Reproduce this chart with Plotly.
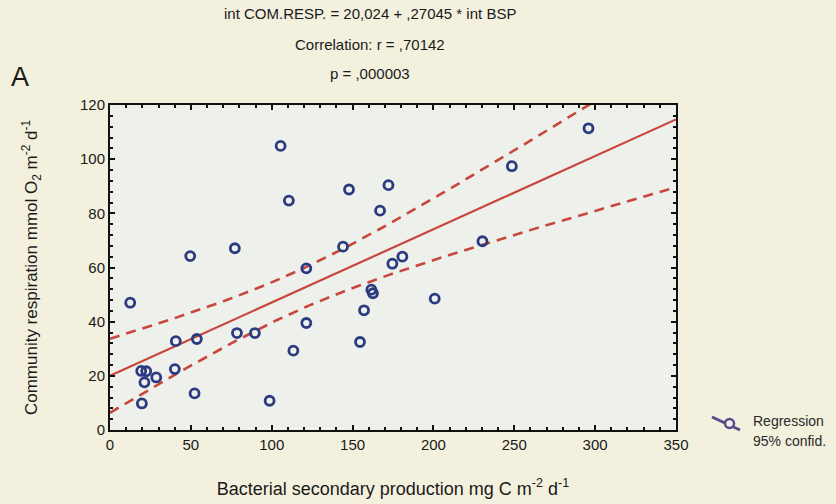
import numpy as np
import plotly.graph_objects as go

# Bacterial secondary production (mg C m-2 d-1) vs community respiration (mmol O2 m-2 d-1)
bsp = [12.5, 19.3, 22.4, 21.3, 28.6, 19.7, 40.7, 40.1, 53.7, 52.3, 78.5, 89.6,
       98.7, 113.4, 121.4, 121.4, 49.6, 105.5, 110.6, 77.2, 144.1, 147.8, 172.2,
       167.0, 230.3, 248.5, 295.9, 174.6, 180.8, 161.6, 162.6, 157.1, 154.6, 200.8]
com_resp = [47.0, 21.8, 21.7, 17.6, 19.4, 9.8, 32.8, 22.5, 33.6, 13.5, 35.8, 35.8,
            10.8, 29.3, 39.5, 59.7, 64.2, 104.9, 84.7, 67.1, 67.7, 88.8, 90.4,
            81.0, 69.7, 97.4, 111.4, 61.4, 64.0, 51.8, 50.5, 44.2, 32.5, 48.5]

# Regression coefficients as reported
intercept = 20.024
slope = 0.27045
t_975 = 2.037  # Student t, 0.975 quantile, df = n - 2 = 32

x_ticks = [0, 50, 100, 150, 200, 250, 300, 350]
y_ticks = [0, 20, 40, 60, 80, 100, 120]

title_lines = ["int COM.RESP. = 20,024 + ,27045 * int BSP",
               "Correlation: r = ,70142",
               "p = ,000003"]

# ---- regression line and 95% confidence band for the mean ----
x = np.array(bsp)
y = np.array(com_resp)
n = len(x)
xm = x.mean()
sxx = ((x - xm) ** 2).sum()
resid = y - (intercept + slope * x)
s = np.sqrt((resid ** 2).sum() / (n - 2))
xg = np.linspace(x_ticks[0], x_ticks[-1], 300)
yfit = intercept + slope * xg
half = t_975 * s * np.sqrt(1.0 / n + (xg - xm) ** 2 / sxx)

W, H = 836, 504
L, R, T, B = 110, 160, 105, 74
PW, PH = W - L - R, H - T - B


def px(xp):
    return (xp - L) / PW


def py(yp):
    return (H - B - yp) / PH


RED = "#c8473d"
NAVY = "#2c3a80"
FONT = "Liberation Sans, Arial, sans-serif"
TXT = "#1a1a1a"

fig = go.Figure()
fig.add_trace(go.Scatter(x=xg, y=yfit + half, mode="lines",
                         line=dict(color=RED, width=2.6, dash="10px,7px"),
                         hoverinfo="skip", showlegend=False))
fig.add_trace(go.Scatter(x=xg, y=yfit - half, mode="lines",
                         line=dict(color=RED, width=2.6, dash="10px,7px"),
                         hoverinfo="skip", showlegend=False))
fig.add_trace(go.Scatter(x=xg, y=yfit, mode="lines",
                         line=dict(color=RED, width=2.2),
                         hoverinfo="skip", showlegend=False))
fig.add_trace(go.Scatter(x=bsp, y=com_resp, mode="markers",
                         marker=dict(symbol="circle-open", size=9, color=NAVY,
                                     line=dict(width=2.8, color=NAVY)),
                         showlegend=False))

axis_common = dict(
    showgrid=False, zeroline=False, showline=True, linecolor="#111111",
    linewidth=2, mirror="ticks", ticks="inside", ticklen=5, tickwidth=1.5,
    tickcolor="#111111", tickfont=dict(family=FONT, size=15, color=TXT),
    automargin=False,
)

fig.update_xaxes(range=[x_ticks[0], x_ticks[-1]], tickvals=x_ticks,
                 minor=dict(dtick=10, ticks="inside", ticklen=3, tickwidth=1.5,
                            tickcolor="#111111"),
                 title=dict(text="Bacterial secondary production mg C m<sup>-2</sup> d<sup>-1</sup>",
                            font=dict(family=FONT, size=18, color=TXT),
                            standoff=30),
                 **axis_common)
fig.update_yaxes(range=[y_ticks[0], y_ticks[-1]], tickvals=y_ticks,
                 minor=dict(dtick=4, ticks="inside", ticklen=3, tickwidth=1.5,
                            tickcolor="#111111"),
                 title=dict(text="Community respiration mmol O<sub>2</sub> m<sup>-2</sup> d<sup>-1</sup>",
                            font=dict(family=FONT, size=17, color=TXT),
                            standoff=38),
                 **axis_common)

annotations = []
for line, yp in zip(title_lines, [14, 44, 73]):
    annotations.append(dict(text=line, x=px(370), y=py(yp), xref="paper", yref="paper",
                            showarrow=False, xanchor="center", yanchor="middle",
                            font=dict(family=FONT, size=15, color=TXT)))
annotations.append(dict(text="A", x=px(20), y=py(77), xref="paper", yref="paper",
                        showarrow=False, xanchor="center", yanchor="middle",
                        font=dict(family=FONT, size=27, color=TXT)))
annotations.append(dict(text="Regression", x=px(751), y=py(421), xref="paper", yref="paper",
                        showarrow=False, xanchor="left", yanchor="middle",
                        font=dict(family=FONT, size=14, color="#2a2a2a")))
annotations.append(dict(text="95% confid.", x=px(751), y=py(441), xref="paper", yref="paper",
                        showarrow=False, xanchor="left", yanchor="middle",
                        font=dict(family=FONT, size=14, color="#2a2a2a")))

LEG = "#574a8c"
shapes = [
    dict(type="line", xref="paper", yref="paper", x0=px(712), y0=py(417), x1=px(740), y1=py(430),
         line=dict(color=LEG, width=3)),
    dict(type="circle", xref="paper", yref="paper", x0=px(725), y0=py(419), x1=px(734), y1=py(428),
         line=dict(color=LEG, width=2.5), fillcolor="#efeee6"),
]

fig.update_layout(
    width=W, height=H,
    margin=dict(l=L, r=R, t=T, b=B),
    paper_bgcolor="#f3f0de",
    plot_bgcolor="#eef0ec",
    annotations=annotations,
    shapes=shapes,
    font=dict(family=FONT),
)

fig.write_html("out.html")
